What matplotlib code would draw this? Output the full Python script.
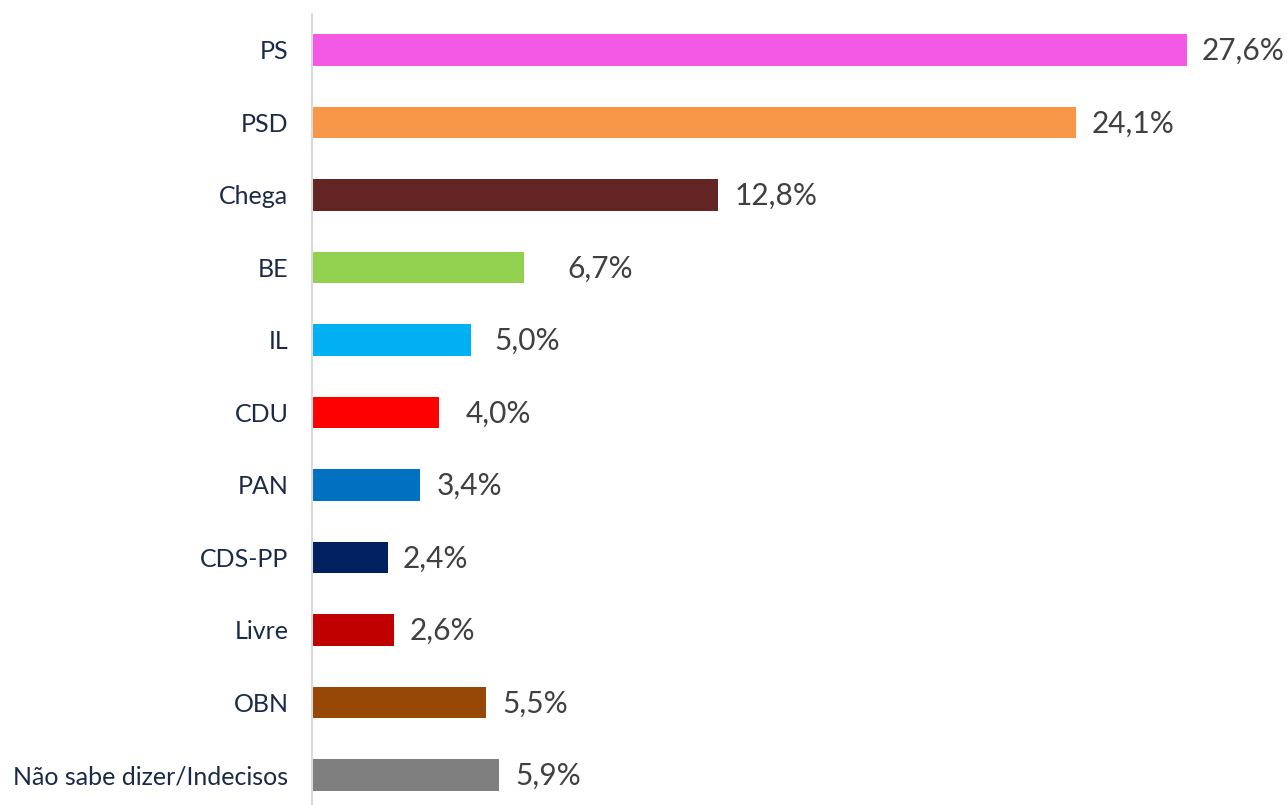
import matplotlib
matplotlib.use("Agg")
import matplotlib.pyplot as plt
from matplotlib.transforms import offset_copy

categories = ["PS", "PSD", "Chega", "BE", "IL", "CDU", "PAN", "CDS-PP", "Livre", "OBN",
              "Não sabe dizer/Indecisos"]
values = [27.6, 24.1, 12.8, 6.7, 5.0, 4.0, 3.4, 2.4, 2.6, 5.5, 5.9]
labels = ["27,6%", "24,1%", "12,8%", "6,7%", "5,0%", "4,0%", "3,4%", "2,4%", "2,6%", "5,5%", "5,9%"]
colors = ["#F359E4", "#F79646", "#632523", "#92D050", "#00B0F0", "#FF0000",
          "#0070C0", "#002060", "#C00000", "#974706", "#7F7F7F"]

# label gaps (style: distance in pixels from bar end to value label)
label_gap_px = [15, 16, 17, 43, 24, 27, 17, 15, 15, 16, 16]

plt.rcParams['font.family'] = ['Lato', 'DejaVu Sans']

W, H = 1287, 805
fig = plt.figure(figsize=(W / 100, H / 100), dpi=100)
ax = fig.add_axes([312 / W, 0, (1263 - 312) / W, 1 - 13.75 / H])

y = list(range(len(categories)))
ax.barh(y, values, height=0.44, color=colors)
ax.set_xlim(0, 30)
ax.set_ylim(10.414, -0.5)

ax.set_yticks(y)
ax.set_yticklabels(categories, fontsize=18, color="#1B2A47")
ax.tick_params(axis="y", length=0, pad=17)
ax.set_xticks([])
for s in ["top", "right", "bottom"]:
    ax.spines[s].set_visible(False)
ax.spines["left"].set_color("#D9D9D9")
ax.spines["left"].set_linewidth(1.5)

for yi, v, lab, g in zip(y, values, labels, label_gap_px):
    tr = offset_copy(ax.transData, fig=fig, x=g, y=-1, units="dots")
    ax.text(v, yi, lab, transform=tr, va="center", ha="left",
            fontsize=21.5, color="#404040")

fig.savefig("out.png", dpi=100)
